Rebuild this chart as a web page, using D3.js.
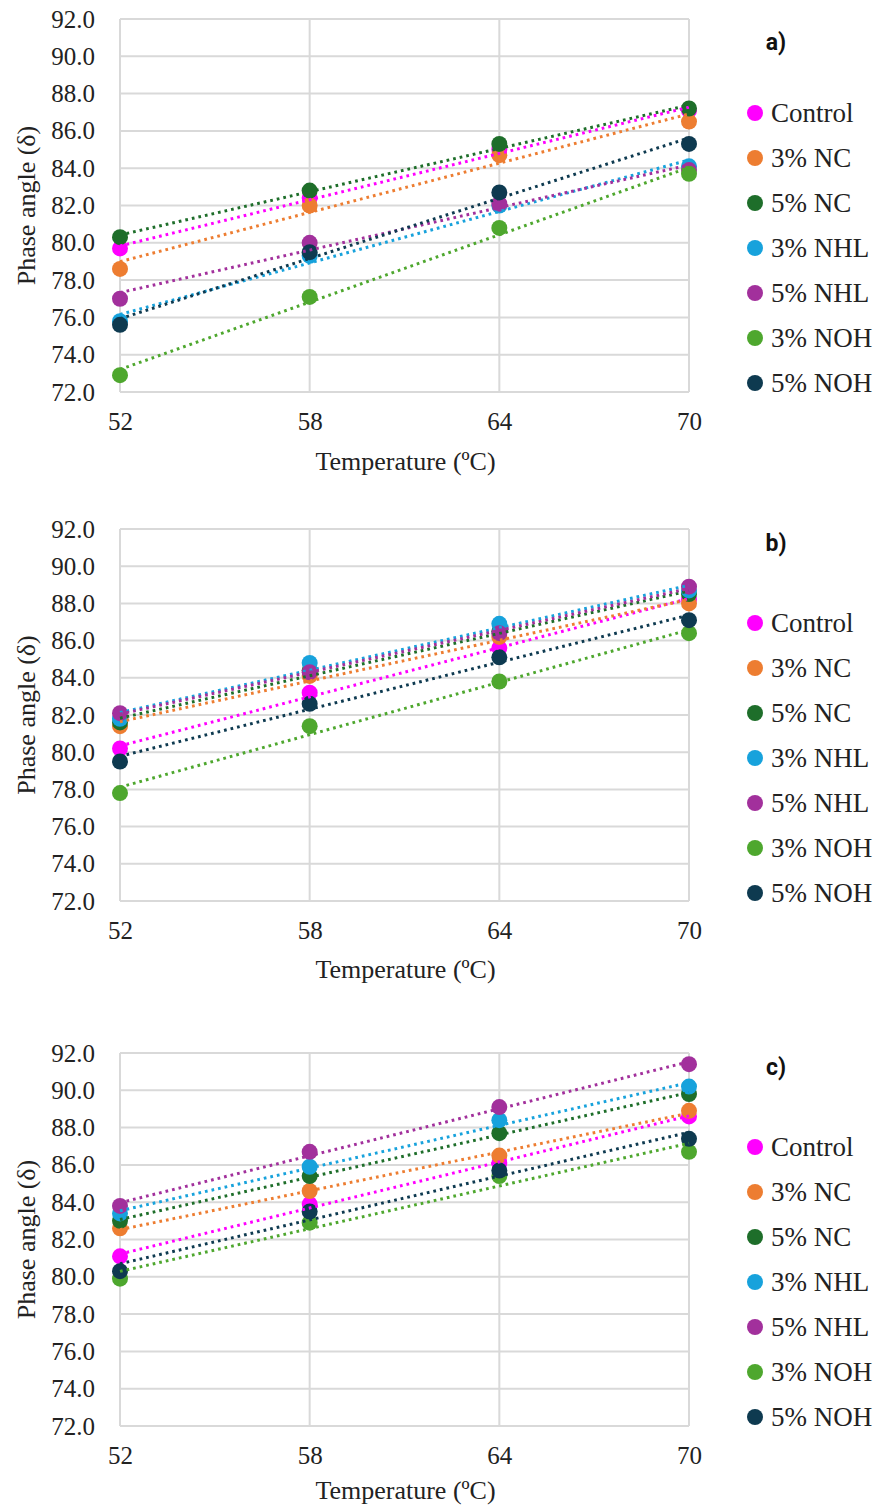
<!DOCTYPE html>
<html>
<head>
<meta charset="utf-8">
<script src="https://cdn.jsdelivr.net/npm/d3@7"></script>
<style>
  body { margin: 0; background: #fff; }
</style>
</head>
<body>
<svg id="chart" width="878" height="1508"></svg>
<script>
// temperatures on the x axis
const temps = [52, 58, 64, 70];
const yTicks = [72, 74, 76, 78, 80, 82, 84, 86, 88, 90, 92];
const seriesNames = ["Control", "3% NC", "5% NC", "3% NHL", "5% NHL", "3% NOH", "5% NOH"];
const seriesColors = ["#FF00FF", "#ED7D31", "#1E6E2A", "#17A2DC", "#A2309C", "#4EA72E", "#0E3A50"];

// phase angle values, one row per series (same order as seriesNames)
const valuesA = [
    [79.7, 82.4, 85.0, 87.1],
    [78.6, 82.0, 84.7, 86.5],
    [80.3, 82.8, 85.3, 87.2],
    [75.8, 79.3, 82.0, 84.1],
    [77.0, 80.0, 82.1, 83.9],
    [72.9, 77.1, 80.8, 83.7],
    [75.6, 79.5, 82.7, 85.3]
];
const valuesB = [
    [80.2, 83.2, 85.6, 88.2],
    [81.4, 84.1, 86.2, 88.0],
    [81.6, 84.4, 86.5, 88.5],
    [81.8, 84.8, 86.9, 88.7],
    [82.1, 84.3, 86.4, 88.9],
    [77.8, 81.4, 83.8, 86.4],
    [79.5, 82.6, 85.1, 87.1]
];
const valuesC = [
    [81.1, 83.9, 86.1, 88.6],
    [82.6, 84.6, 86.5, 88.9],
    [83.0, 85.4, 87.7, 89.8],
    [83.4, 85.9, 88.4, 90.2],
    [83.8, 86.7, 89.1, 91.4],
    [79.9, 82.9, 85.4, 86.7],
    [80.3, 83.5, 85.7, 87.4]
];

const panels = [
    {label: "a)", values: valuesA, top: 19, bottom: 392, labelY: 42, titleY: 461},
    {label: "b)", values: valuesB, top: 529, bottom: 901, labelY: 543, titleY: 969},
    {label: "c)", values: valuesC, top: 1053, bottom: 1426, labelY: 1067, titleY: 1490}
];

const serif = '"Liberation Serif", "Times New Roman", "DejaVu Serif", serif';
const svg = d3.select("#chart");
const left = 120, right = 689;

// least squares fit, Excel style linear trendline
function linearFit(xs, ys) {
    var mx = d3.mean(xs), my = d3.mean(ys);
    var num = d3.sum(xs, (x, i) => (x - mx) * (ys[i] - my));
    var den = d3.sum(xs, x => (x - mx) * (x - mx));
    var slope = num / den;
    return x => my + slope * (x - mx);
}

function drawPanel(p) {
    var g = svg.append("g");
    var x = d3.scaleLinear().domain([52, 70]).range([left, right]);
    var y = d3.scaleLinear().domain([72, 92]).range([p.bottom, p.top]);

    // grid
    g.append("g").selectAll("line").data(yTicks).join("line")
        .attr("x1", left).attr("x2", right)
        .attr("y1", d => y(d)).attr("y2", d => y(d))
        .attr("stroke", "#d9d9d9").attr("stroke-width", 2);
    g.append("g").selectAll("line").data(temps).join("line")
        .attr("x1", d => x(d)).attr("x2", d => x(d))
        .attr("y1", p.top).attr("y2", p.bottom)
        .attr("stroke", "#d9d9d9").attr("stroke-width", 2);

    // axes labels
    var yAxis = d3.axisLeft(y).tickValues(yTicks).tickFormat(d3.format(".1f")).tickSize(0).tickPadding(25);
    var ya = g.append("g").attr("transform", `translate(${left},0)`).call(yAxis);
    ya.select(".domain").remove();
    ya.selectAll("text").style("font-family", serif).style("font-size", "25px").attr("fill", "#222");

    var xAxis = d3.axisBottom(x).tickValues(temps).tickSize(0).tickPadding(20);
    var xa = g.append("g").attr("transform", `translate(0,${p.bottom})`).call(xAxis);
    xa.select(".domain").remove();
    xa.selectAll("text").style("font-family", serif).style("font-size", "25px").attr("fill", "#222");

    g.append("text")
        .attr("x", (left + right) / 2 + 1).attr("y", p.titleY)
        .attr("text-anchor", "middle").attr("dominant-baseline", "central")
        .style("font-family", serif).style("font-size", "26px").attr("fill", "#222")
        .text("Temperature (ºC)");

    g.append("text")
        .attr("transform", `translate(26,${(p.top + p.bottom) / 2}) rotate(-90)`)
        .attr("text-anchor", "middle").attr("dominant-baseline", "central")
        .style("font-family", serif).style("font-size", "26px").attr("fill", "#222")
        .text("Phase angle  (δ)");

    // markers
    p.values.forEach(function(vals, i) {
        g.append("g").selectAll("circle").data(vals).join("circle")
            .attr("cx", (d, j) => x(temps[j]))
            .attr("cy", d => y(d))
            .attr("r", 8)
            .attr("fill", seriesColors[i]);
    });

    // dotted trendlines drawn over the markers
    p.values.forEach(function(vals, i) {
        var fit = linearFit(temps, vals);
        g.append("line")
            .attr("x1", x(52)).attr("y1", y(fit(52)))
            .attr("x2", x(70)).attr("y2", y(fit(70)))
            .attr("stroke", seriesColors[i])
            .attr("stroke-width", 3)
            .attr("stroke-dasharray", "2.7 4");
    });

    // legend
    var leg = g.append("g");
    seriesNames.forEach(function(name, i) {
        var ly = p.top + 94 + i * 45;
        leg.append("circle").attr("cx", 755).attr("cy", ly).attr("r", 8).attr("fill", seriesColors[i]);
        leg.append("text").attr("x", 771).attr("y", ly)
            .attr("dominant-baseline", "central")
            .style("font-family", serif).style("font-size", "27px").attr("fill", "#222")
            .text(name);
    });

    g.append("text")
        .attr("x", 776).attr("y", p.labelY)
        .attr("text-anchor", "middle").attr("dominant-baseline", "central")
        .style("font-family", "Roboto, sans-serif").style("font-weight", "bold").style("font-size", "23px")
        .attr("fill", "#111")
        .text(p.label);
}

panels.forEach(drawPanel);
</script>
</body>
</html>
